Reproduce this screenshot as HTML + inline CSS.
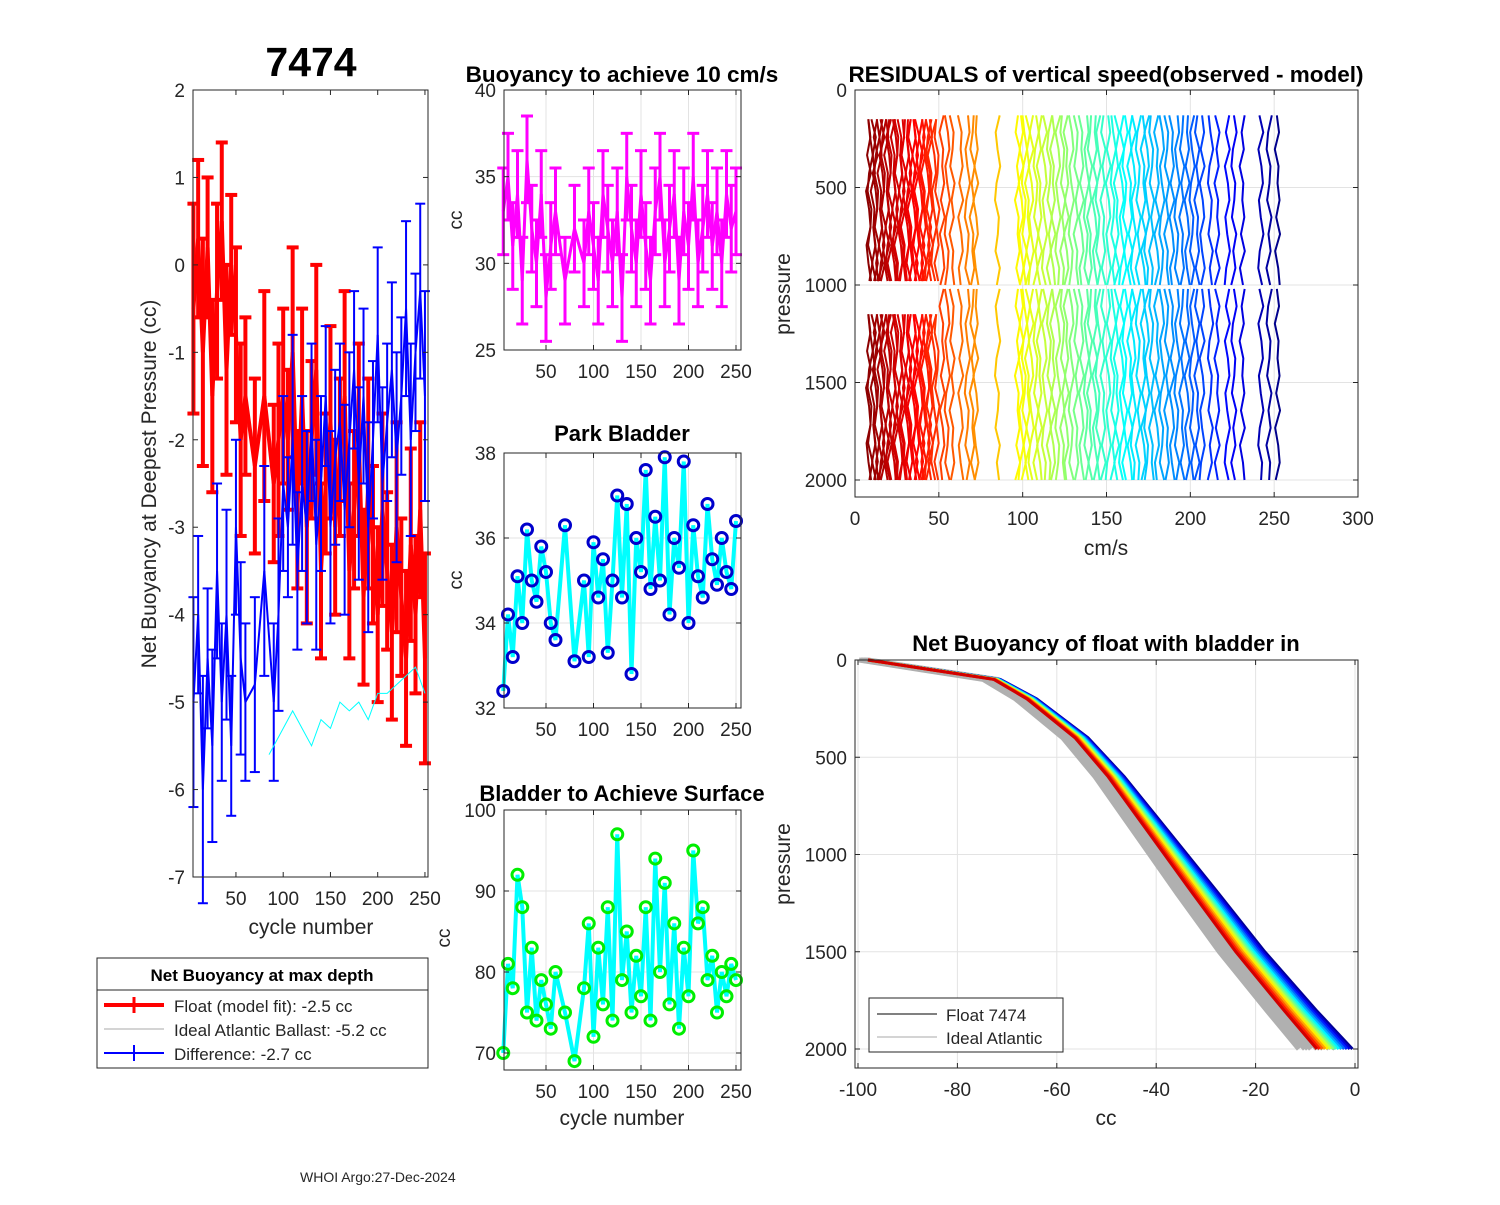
<!DOCTYPE html>
<html><head><meta charset="utf-8"><style>
body{margin:0;background:#fff;width:1500px;height:1200px;overflow:hidden}
svg{font-family:"Liberation Sans",Arial,sans-serif}
</style></head><body>
<svg id="fig" width="1500" height="1200" viewBox="0 0 1500 1200" xmlns="http://www.w3.org/2000/svg"></svg>
<script>
// ---------- data ----------
const cycles = [5,10,15,20,25,30,35,40,45,50,55,60,70,80,90,95,100,105,110,115,120,125,130,135,140,145,150,155,160,165,170,175,180,185,190,195,200,205,210,215,220,225,230,235,240,245,250];
const floatNB = [-0.5,0.3,-1.0,0.2,-1.5,-0.3,0.5,-1.2,0.0,-0.8,-2.0,-1.5,-2.3,-1.5,-2.5,-2.0,-1.5,-2.0,-1.0,-2.8,-1.5,-3.0,-2.0,-1.2,-3.5,-2.5,-1.8,-3.0,-2.2,-1.5,-3.5,-2.8,-2.0,-3.8,-2.5,-3.2,-4.0,-2.8,-3.5,-4.2,-3.0,-3.8,-4.5,-3.2,-4.0,-2.8,-4.5];
const diffNB = [-5.0,-4.0,-6.0,-4.5,-5.5,-3.5,-5.0,-4.0,-5.5,-3.0,-4.5,-5.0,-4.8,-3.5,-5.0,-4.0,-2.5,-3.0,-2.0,-3.5,-2.5,-3.0,-1.8,-3.2,-2.5,-1.5,-3.0,-2.2,-1.8,-2.8,-2.0,-1.2,-2.5,-1.5,-3.0,-2.0,-0.8,-2.5,-1.8,-1.2,-2.2,-1.5,-0.5,-2.0,-1.0,-0.3,-1.5];
const idealCycles = [85,100,110,120,130,140,150,160,170,180,190,200,210,220,230,240,250];
const idealNB = [-5.6,-5.3,-5.1,-5.3,-5.5,-5.2,-5.3,-5.0,-5.1,-5.0,-5.2,-4.9,-4.9,-4.8,-4.7,-4.6,-4.9];
const errNB = [1.2,0.9,1.3,0.8,1.1,1.0,0.9,1.2,0.8,1.0,1.1,0.9,1.0,1.2,0.9,1.1,1.0,0.8,1.2,0.9,1.0,1.1,0.9,1.2,1.0,0.8,1.1,1.0,0.9,1.2,1.0,0.9,1.1,1.0,1.2,0.9,1.0,1.1,0.9,1.0,1.2,0.9,1.0,1.1,0.9,1.0,1.2];
const speedCC = [33,35,31,34,29,36,32,30,34,28,31,33,29,32,30,33,31,29,34,32,30,33,28,35,32,30,34,31,29,33,35,30,32,34,29,33,31,35,30,32,34,31,33,30,34,32,33];
const parkCC = [32.4,34.2,33.2,35.1,34.0,36.2,35.0,34.5,35.8,35.2,34.0,33.6,36.3,33.1,35.0,33.2,35.9,34.6,35.5,33.3,35.0,37.0,34.6,36.8,32.8,36.0,35.2,37.6,34.8,36.5,35.0,37.9,34.2,36.0,35.3,37.8,34.0,36.3,35.1,34.6,36.8,35.5,34.9,36.0,35.2,34.8,36.4];
const surfCC = [70,81,78,92,88,75,83,74,79,76,73,80,75,69,78,86,72,83,76,88,74,97,79,85,75,82,77,88,74,94,80,91,76,86,73,83,77,95,86,88,79,82,75,80,77,81,79];
const residCycles = [8,9,11,12,13,15,16,17,19,20,21,23,24,25,27,28,29,31,32,33,35,36,37,39,40,41,43,44,45,47,49,52,55,58,63,67,70,72,85,97,99,101,103,105,108,110,113,116,118,121,124,126,129,132,135,138,140,143,145,148,151,154,156,159,161,164,166,169,172,174,177,180,183,186,189,192,195,198,201,204,207,212,216,222,226,231,242,247,252];
const wiggle = [0,1.2,-0.8,1.5,-1.4,0.4,1.3,-1.1,0,1.6,-0.6,-1.5,0.8,0.2,-1.2,1.4,-0.4,0.9,-1.6,0.6];
const profP = [0,50,100,200,400,600,800,1000,1200,1500,1800,2000];
const profCC = [-98,-85,-72,-65,-55,-48,-42,-36,-30,-21,-11,-4];
const profOffsets = [-4,-3.4,-2.8,-2.2,-1.6,-1,-0.4,0.2,0.8,1.4,2,2.6,3.2,3.8];
const idealOffsets = [-6,-5,-4.5,-4,-3,-2.5,-2,-1,0];

// ---------- helpers ----------
const NS="http://www.w3.org/2000/svg";
const fig=document.getElementById('fig');
function mk(tag,attrs,name,parent){
  const el=document.createElementNS(NS,tag);
  for(const k in attrs) el.setAttribute(k,attrs[k]);
  
  
  (parent||fig).appendChild(el);
  return el;
}
function txt(x,y,s,name,opt){
  opt=opt||{};
  const t=mk('text',{x:x,y:y,'font-size':opt.size||19,'text-anchor':opt.anchor||'middle','font-weight':opt.bold?'bold':'normal',fill:opt.bold?'#000':'#262626'},name);
  if(opt.rot) t.setAttribute('transform','rotate(-90 '+x+' '+y+')');
  t.textContent=s; return t;
}
function lin(d0,d1,r0,r1){return v=>r0+(v-d0)*(r1-r0)/(d1-d0);}
function jet(t){
  const r=Math.min(1,Math.max(0,1.5-Math.abs(4*t-3)));
  const g=Math.min(1,Math.max(0,1.5-Math.abs(4*t-2)));
  const b=Math.min(1,Math.max(0,1.5-Math.abs(4*t-1)));
  return 'rgb('+Math.round(r*255)+','+Math.round(g*255)+','+Math.round(b*255)+')';
}
function axesBox(x0,y0,x1,y1,name,xt,sx,yt,sy,grid){
  const g=mk('g',{},name);
  if(grid){
    xt.forEach(v=>mk('line',{x1:sx(v),x2:sx(v),y1:y0,y2:y1,stroke:'#e3e3e3','stroke-width':1},'x-grid-line',g));
    yt.forEach(v=>mk('line',{y1:sy(v),y2:sy(v),x1:x0,x2:x1,stroke:'#e3e3e3','stroke-width':1},'y-grid-line',g));
  }
  return g;
}
function frame(x0,y0,x1,y1,name,xt,sx,xl,yt,sy,yl){
  mk('rect',{x:x0,y:y0,width:x1-x0,height:y1-y0,fill:'none',stroke:'#262626','stroke-width':1},name+'-frame');
  xt.forEach((v,i)=>{
    mk('line',{x1:sx(v),x2:sx(v),y1:y1,y2:y1-5,stroke:'#262626'},'x-tick');
    mk('line',{x1:sx(v),x2:sx(v),y1:y0,y2:y0+5,stroke:'#262626'},'x-tick');
    if(xl) txt(sx(v),y1+28,xl[i],'x-tick-label');
  });
  yt.forEach((v,i)=>{
    mk('line',{x1:x0,x2:x0+5,y1:sy(v),y2:sy(v),stroke:'#262626'},'y-tick');
    mk('line',{x1:x1,x2:x1-5,y1:sy(v),y2:sy(v),stroke:'#262626'},'y-tick');
    if(yl) txt(x0-8,sy(v)+7,yl[i],'y-tick-label',{anchor:'end'});
  });
}
function errbars(g,xs,ys,es,sx,sy,color,w,cap,name){
  xs.forEach((c,i)=>{
    const x=sx(c),a=sy(ys[i]-es[i]),b=sy(ys[i]+es[i]);
    mk('line',{x1:x,x2:x,y1:a,y2:b,stroke:color,'stroke-width':w},name,g);
    mk('line',{x1:x-cap,x2:x+cap,y1:a,y2:a,stroke:color,'stroke-width':w},name+'-cap',g);
    mk('line',{x1:x-cap,x2:x+cap,y1:b,y2:b,stroke:color,'stroke-width':w},name+'-cap',g);
  });
  mk('polyline',{points:xs.map((c,i)=>sx(c)+','+sy(ys[i])).join(' '),fill:'none',stroke:color,'stroke-width':w},name+'-line',g);
}

// ---------- left panel ----------
(function(){
  const x0=193,x1=428,y0=90,y1=877;
  const sx=lin(0,200,188.7,377.7), sy=lin(2,-7,y0,y1);
  const g=mk('g',{},'net-buoyancy-plot');
  errbars(g,cycles,floatNB,errNB,sx,sy,'#ff0000',4,6,'float-errorbar');
  errbars(g,cycles,diffNB,errNB,sx,sy,'#0000ff',2,5,'difference-errorbar');
  mk('polyline',{points:idealCycles.map((c,i)=>sx(c)+','+sy(idealNB[i])).join(' '),fill:'none',stroke:'#00ffff','stroke-width':1},'ideal-ballast-line',g);
  frame(x0,y0,x1,y1,'left-axes',[50,100,150,200,250],sx,['50','100','150','200','250'],[2,1,0,-1,-2,-3,-4,-5,-6,-7],sy,['2','1','0','-1','-2','-3','-4','-5','-6','-7']);
  txt(311,76,'7474','float-id-title',{size:41,bold:true});
  txt(311,934,'cycle number','x-axis-title',{size:21});
  txt(156,484,'Net Buoyancy at Deepest Pressure (cc)','y-axis-title',{size:21,rot:true});
  const lg=mk('g',{},'legend');
  mk('rect',{x:97,y:958,width:331,height:110,fill:'#fff',stroke:'#262626'},'legend-box',lg);
  mk('line',{x1:97,x2:428,y1:990,y2:990,stroke:'#262626'},'legend-divider',lg);
  txt(262,981,'Net Buoyancy at max depth','legend-title',{size:17,bold:true});
  mk('line',{x1:104,x2:164,y1:1005,y2:1005,stroke:'#ff0000','stroke-width':4},'legend-float-line',lg);
  mk('line',{x1:134,x2:134,y1:997,y2:1013,stroke:'#ff0000','stroke-width':3},'legend-float-bar',lg);
  txt(174,1012,'Float (model fit):  -2.5 cc','legend-entry',{size:17,anchor:'start'});
  mk('line',{x1:104,x2:164,y1:1029,y2:1029,stroke:'#aaaaaa','stroke-width':1},'legend-ideal-line',lg);
  txt(174,1036,'Ideal Atlantic Ballast:  -5.2 cc','legend-entry',{size:17,anchor:'start'});
  mk('line',{x1:104,x2:164,y1:1053,y2:1053,stroke:'#0000ff','stroke-width':2},'legend-diff-line',lg);
  mk('line',{x1:134,x2:134,y1:1045,y2:1061,stroke:'#0000ff','stroke-width':2},'legend-diff-bar',lg);
  txt(174,1060,'Difference:  -2.7 cc','legend-entry',{size:17,anchor:'start'});
})();

// ---------- middle panels ----------
const mx0=504,mx1=741, msx=lin(50,250,546,736);
(function(){
  const y0=90,y1=350, sy=lin(40,25,y0,y1);
  axesBox(mx0,y0,mx1,y1,'speed-grid',[50,100,150,200,250],msx,[25,30,35,40],sy,true);
  const g=mk('g',{},'buoyancy-10cms-plot');
  errbars(g,cycles,speedCC,cycles.map(()=>2.5),msx,sy,'#ff00ff',3,6,'speed-errorbar');
  frame(mx0,y0,mx1,y1,'speed-axes',[50,100,150,200,250],msx,['50','100','150','200','250'],[25,30,35,40],sy,['25','30','35','40']);
  txt(622,82,'Buoyancy to achieve 10 cm/s','speed-title',{size:22.5,bold:true});
  txt(462,220,'cc','speed-y-title',{rot:true});
})();
(function(){
  const y0=453,y1=708, sy=lin(38,32,y0,y1);
  axesBox(mx0,y0,mx1,y1,'park-grid',[50,100,150,200,250],msx,[32,34,36,38],sy,true);
  const g=mk('g',{},'park-bladder-plot');
  mk('polyline',{points:cycles.map((c,i)=>msx(c)+','+sy(parkCC[i])).join(' '),fill:'none',stroke:'#00ffff','stroke-width':4},'park-line',g);
  cycles.forEach((c,i)=>mk('circle',{cx:msx(c),cy:sy(parkCC[i]),r:5.5,fill:'none',stroke:'#0000cc','stroke-width':3},'park-point',g));
  frame(mx0,y0,mx1,y1,'park-axes',[50,100,150,200,250],msx,['50','100','150','200','250'],[32,34,36,38],sy,['32','34','36','38']);
  txt(622,441,'Park Bladder','park-title',{size:22,bold:true});
  txt(462,580,'cc','park-y-title',{rot:true});
})();
(function(){
  const y0=810,y1=1070, sy=lin(100,70,810,1053);
  axesBox(mx0,y0,mx1,y1,'surface-grid',[50,100,150,200,250],msx,[70,80,90,100],sy,true);
  const g=mk('g',{},'surface-bladder-plot');
  mk('polyline',{points:cycles.map((c,i)=>msx(c)+','+sy(surfCC[i])).join(' '),fill:'none',stroke:'#00ffff','stroke-width':4},'surface-line',g);
  cycles.forEach((c,i)=>mk('circle',{cx:msx(c),cy:sy(surfCC[i]),r:5.5,fill:'none',stroke:'#00ee00','stroke-width':3},'surface-point',g));
  frame(mx0,y0,mx1,y1,'surface-axes',[50,100,150,200,250],msx,['50','100','150','200','250'],[70,80,90,100],sy,['70','80','90','100']);
  txt(622,801,'Bladder to Achieve Surface','surface-title',{size:22,bold:true});
  txt(622,1125,'cycle number','surface-x-title',{size:21});
  txt(450,938,'cc','surface-y-title',{rot:true});
})();

// ---------- residuals ----------
(function(){
  const x0=855,x1=1358,y0=90,y1=497;
  const sx=lin(0,300,x0,x1), sy=lin(0,2000,90,480);
  axesBox(x0,y0,x1,y1,'resid-grid',[0,50,100,150,200,250,300],sx,[0,500,1000,1500,2000],sy,true);
  const g=mk('g',{},'residuals-plot');
  residCycles.forEach((c,k)=>{
    const col=jet(1-(c-5)/250);
    const segs = c<52 ? [[150,980],[1150,2000]] : [[130,1000],[1020,2000]];
    segs.forEach(s=>{
      const pts=[];
      const n=Math.round((s[1]-s[0])/90);
      for(let j=0;j<=n;j++){
        const p=s[0]+(s[1]-s[0])*j/n;
        pts.push(sx(c+wiggle[(j+k*7)%wiggle.length])+','+sy(p));
      }
      mk('polyline',{points:pts.join(' '),fill:'none',stroke:col,'stroke-width':2,'stroke-linejoin':'round'},'residual-profile',g);
    });
  });
  frame(x0,y0,x1,y1,'resid-axes',[0,50,100,150,200,250,300],sx,['0','50','100','150','200','250','300'],[0,500,1000,1500,2000],sy,['0','500','1000','1500','2000']);
  txt(1106,82,'RESIDUALS of vertical speed(observed - model)','residuals-title',{size:22.5,bold:true});
  txt(1106,555,'cm/s','resid-x-title',{size:21});
  txt(790,294,'pressure','resid-y-title',{size:21,rot:true});
})();

// ---------- net buoyancy profiles ----------
(function(){
  const x0=855,x1=1358,y0=660,y1=1068;
  const sx=lin(-100,0,858,1355), sy=lin(0,2000,660,1049);
  axesBox(x0,y0,x1,y1,'prof-grid',[-100,-80,-60,-40,-20,0],sx,[0,500,1000,1500,2000],sy,true);
  const g=mk('g',{},'profiles-plot');
  idealOffsets.forEach(o=>{
    mk('polyline',{points:profP.map((p,i)=>sx(profCC[i]+o*(0.3+i/profP.length))+','+sy(p)).join(' '),fill:'none',stroke:'#b0b0b0','stroke-width':5},'ideal-profile',g);
  });
  profOffsets.slice().reverse().forEach((o,k)=>{
    const col=jet(k/(profOffsets.length-1)*0.9+0.02);
    mk('polyline',{points:profP.map((p,i)=>sx(profCC[i]+o*(i/profP.length))+','+sy(p)).join(' '),fill:'none',stroke:col,'stroke-width':3},'float-profile',g);
  });
  frame(x0,y0,x1,y1,'prof-axes',[-100,-80,-60,-40,-20,0],sx,['-100','-80','-60','-40','-20','0'],[0,500,1000,1500,2000],sy,['0','500','1000','1500','2000']);
  txt(1106,651,'Net Buoyancy of float with bladder in','profiles-title',{size:22,bold:true});
  txt(1106,1125,'cc','prof-x-title',{size:21});
  txt(790,864,'pressure','prof-y-title',{size:21,rot:true});
  mk('rect',{x:869,y:998,width:194,height:54,fill:'#fff',stroke:'#262626'},'profile-legend-box');
  mk('line',{x1:877,x2:937,y1:1014,y2:1014,stroke:'#000','stroke-width':1},'legend-float-line');
  txt(946,1021,'Float 7474','legend-entry',{size:17,anchor:'start'});
  mk('line',{x1:877,x2:937,y1:1037,y2:1037,stroke:'#aaaaaa','stroke-width':1},'legend-ideal-line');
  txt(946,1044,'Ideal Atlantic','legend-entry',{size:17,anchor:'start'});
})();
txt(300,1182,'WHOI Argo:27-Dec-2024','footer-date',{size:14,anchor:'start'});
</script>
</body></html>
